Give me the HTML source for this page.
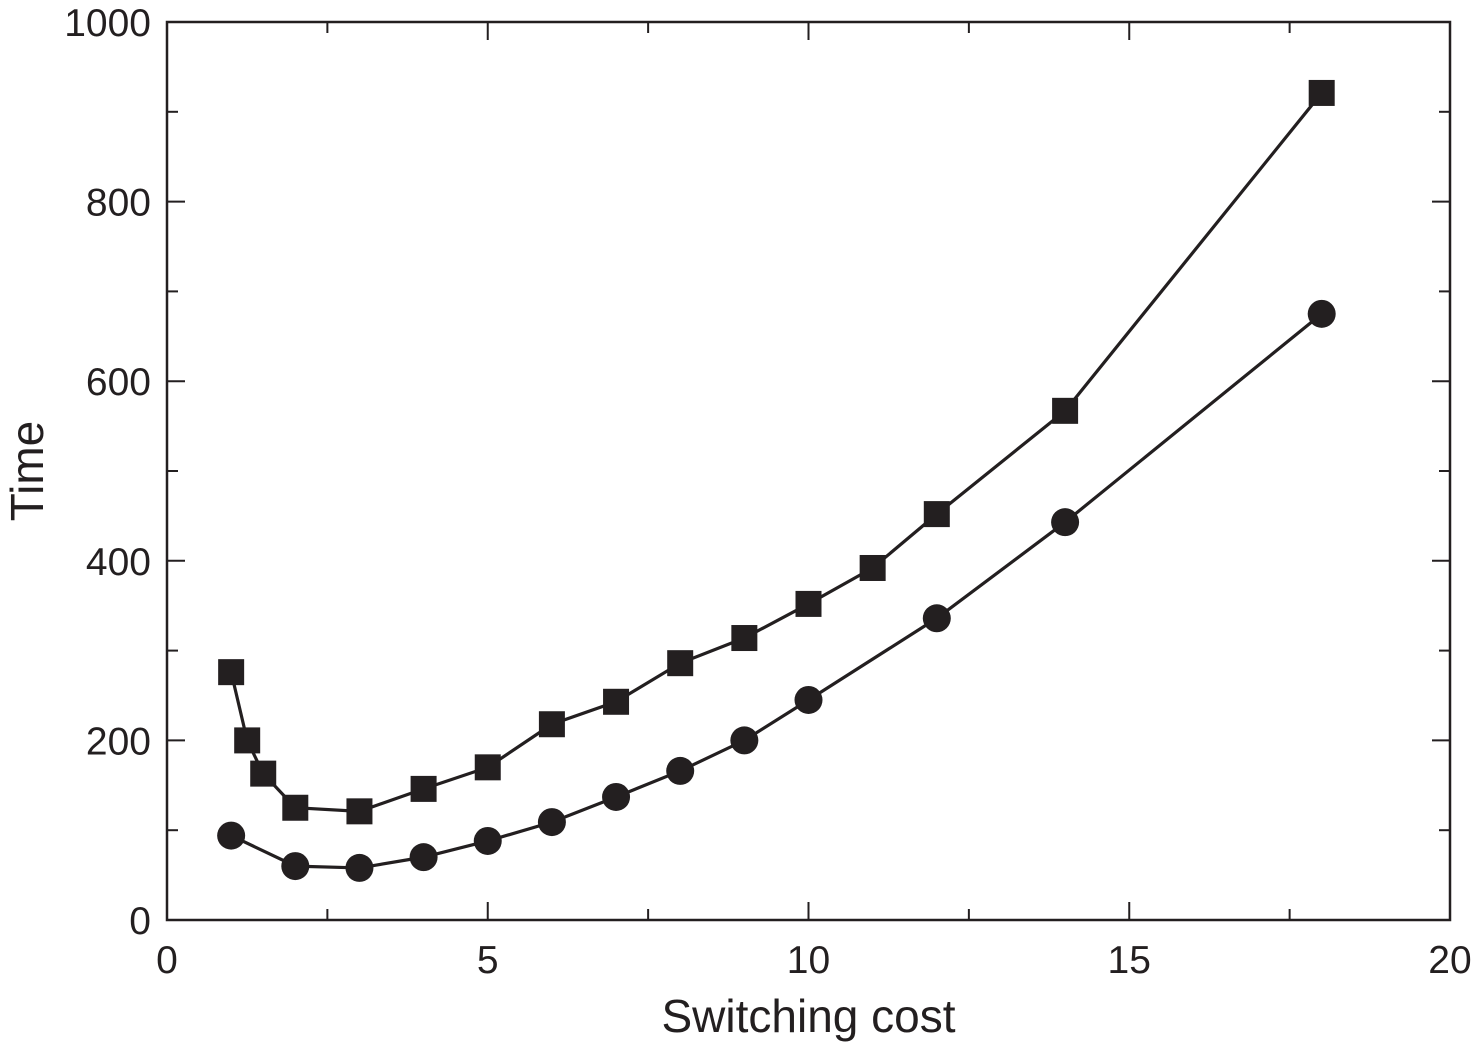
<!DOCTYPE html>
<html><head><meta charset="utf-8"><style>
html,body{margin:0;padding:0;background:#fff;}
svg{display:block;font-family:"Liberation Sans",Arial,sans-serif;}
</style></head><body>
<svg id="chart" width="1475" height="1055" viewBox="0 0 1475 1055">
<g id="axes"></g><g id="series"></g>
</svg>
<script>
const xTicks=[0,5,10,15,20];
const yTicks=[0,200,400,600,800,1000];
const sqX=[1,1.25,1.5,2,3,4,5,6,7,8,9,10,11,12,14,18];
const sqY=[276,200,163,125,121,146,170,218,243,286,314,352,392,452,567,921];
const ciX=[1,2,3,4,5,6,7,8,9,10,12,14,18];
const ciY=[94,60,58,70,88,109,137,166,200,245,336,443,675];

const L=167,R=1450,T=22,B=920;
const sx=v=>L+(v/20)*(R-L);
const sy=v=>B-(v/1000)*(B-T);
const NS='http://www.w3.org/2000/svg';
const axes=document.getElementById('axes'),ser=document.getElementById('series');
function mk(tag,attrs,parent){const e=document.createElementNS(NS,tag);for(const k in attrs)e.setAttribute(k,attrs[k]);parent.appendChild(e);return e;}

const frame=mk('rect',{x:L,y:T,width:R-L,height:B-T,fill:'none',stroke:'#231f20','stroke-width':2.5},axes);



for(let v=0;v<=20;v+=2.5){const major=v%5===0;const len=major?18:11;const x=sx(v);
 const t1=mk('line',{x1:x,y1:B,x2:x,y2:B-len,stroke:'#231f20','stroke-width':2},axes);
 
 
 const t2=mk('line',{x1:x,y1:T,x2:x,y2:T+len,stroke:'#231f20','stroke-width':2},axes);
 
 }
for(let v=0;v<=1000;v+=100){const major=v%200===0;const len=major?18:11;const y=sy(v);
 const t1=mk('line',{x1:L,y1:y,x2:L+len,y2:y,stroke:'#231f20','stroke-width':2},axes);
 
 
 const t2=mk('line',{x1:R,y1:y,x2:R-len,y2:y,stroke:'#231f20','stroke-width':2},axes);
 
 }
xTicks.forEach(v=>{const t=mk('text',{x:sx(v),y:973,'text-anchor':'middle','font-size':39,fill:'#231f20'},axes);t.textContent=v;
 
 });
yTicks.forEach(v=>{const t=mk('text',{x:151,y:sy(v)+14,'text-anchor':'end','font-size':39,fill:'#231f20'},axes);t.textContent=v;
 
 });
const xt=mk('text',{x:sx(10),y:1032,'text-anchor':'middle','font-size':46,fill:'#231f20'},axes);xt.textContent='Switching cost';


const yt=mk('text',{x:0,y:0,'text-anchor':'middle','font-size':46,fill:'#231f20',transform:'translate(43,'+sy(500)+') rotate(-90)'},axes);yt.textContent='Time';



function line(xs,ys,name){const p=mk('polyline',{points:xs.map((x,i)=>sx(x)+','+sy(ys[i])).join(' '),fill:'none',stroke:'#231f20','stroke-width':3.2},ser);
 
 }
line(sqX,sqY,'square-series-line');
line(ciX,ciY,'circle-series-line');
sqX.forEach((x,i)=>{const r=mk('rect',{x:sx(x)-13,y:sy(sqY[i])-13,width:26,height:26,fill:'#231f20'},ser);
 
 });
ciX.forEach((x,i)=>{const c=mk('circle',{cx:sx(x),cy:sy(ciY[i]),r:14,fill:'#231f20'},ser);
 
 });
</script>
</body></html>
